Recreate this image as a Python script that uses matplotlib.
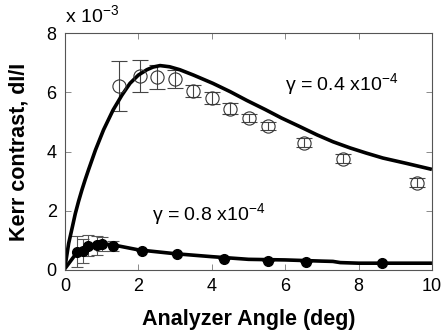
import numpy as np
import matplotlib
matplotlib.use('Agg')
import matplotlib.pyplot as plt

plt.rcParams['font.family'] = ['Liberation Sans', 'DejaVu Sans']

# measured points, y in units of 1e-3
open_x = [1.47, 2.04, 2.5, 3.0, 3.5, 4.0, 4.5, 5.0, 5.53, 6.5, 7.57, 9.58]
open_y = [6.22, 6.55, 6.52, 6.45, 6.05, 5.8, 5.45, 5.13, 4.86, 4.29, 3.75, 2.94]
open_err = [0.85, 0.55, 0.4, 0.3, 0.2, 0.2, 0.2, 0.15, 0.15, 0.15, 0.15, 0.15]

fill_x = [0.32, 0.5, 0.62, 0.88, 1.02, 1.32, 2.09, 3.04, 4.33, 5.54, 6.58, 8.63]
fill_y = [0.62, 0.64, 0.82, 0.84, 0.88, 0.81, 0.65, 0.54, 0.37, 0.31, 0.28, 0.22]
fill_err = [0.53, 0.42, 0.35, 0.32, 0.25, 0.16, 0, 0, 0, 0, 0, 0]

# fit curves
fit1_x = [0, 0.05, 0.1, 0.2, 0.28, 0.37, 0.46, 0.55, 0.64, 0.83, 1.05, 1.31,
          1.55, 1.77, 2.0, 2.23, 2.4, 2.59, 2.85, 3.13, 3.5, 4.03, 4.5, 4.96,
          5.45, 5.9, 6.4, 6.87, 7.3, 7.77, 8.2, 8.66, 9.3, 9.95]
fit1_y = [0.11, 0.5, 0.9, 1.45, 1.9, 2.32, 2.7, 3.05, 3.38, 4.05, 4.73, 5.4,
          5.9, 6.3, 6.58, 6.76, 6.85, 6.9, 6.86, 6.76, 6.58, 6.3, 6.02, 5.72,
          5.42, 5.13, 4.84, 4.56, 4.33, 4.12, 3.95, 3.78, 3.6, 3.41]

fit2_x = [0, 0.15, 0.3, 0.5, 0.7, 1.0, 1.3, 2.0, 3.0, 4.0, 5.0, 6.0, 7.0,
          7.3, 7.5, 8.0, 9.0, 9.95]
fit2_y = [0.05, 0.3, 0.55, 0.72, 0.82, 0.88, 0.85, 0.68, 0.55, 0.45, 0.36,
          0.34, 0.3, 0.29, 0.25, 0.23, 0.23, 0.23]

fig = plt.figure(figsize=(4.48, 3.36), dpi=100)
ax = fig.add_axes([65 / 448, 1 - 270 / 336, 367 / 448, 237 / 336])

ax.errorbar(open_x, open_y, yerr=open_err, fmt='o', mfc='none', mec='#333333',
            ms=9.5, mew=0.8, ecolor='#444444', elinewidth=0.8, capsize=6, capthick=0.8)
ax.errorbar(fill_x, fill_y, yerr=fill_err, fmt='o', color='black', ms=7,
            ecolor='#555555', elinewidth=0.8, capsize=4, capthick=0.8)
ax.plot(fit1_x, fit1_y, color='black', lw=2.6)
ax.plot(fit2_x, fit2_y, color='black', lw=2.6)

ax.text(6.0, 6.25, 'γ = 0.4 x10$^{\\mathregular{-4}}$', fontsize=14, va='center')
ax.text(2.37, 1.86, 'γ = 0.8 x10$^{\\mathregular{-4}}$', fontsize=14, va='center')

ax.set_xlim(0, 10)
ax.set_ylim(0, 8)
ax.set_xticks([0, 2, 4, 6, 8, 10])
ax.set_yticks([0, 2, 4, 6, 8])
ax.tick_params(direction='in', top=True, right=True, labelsize=13, length=4,
               width=0.6, color='#777777', pad=6)
for s in ax.spines.values():
    s.set_linewidth(0.8)
    s.set_color('#555555')

ax.set_xlabel('Analyzer Angle (deg)', fontsize=15.5, fontweight='bold', labelpad=10)
ax.set_ylabel('Kerr contrast, dI/I', fontsize=15.5, fontweight='bold', labelpad=12)
ax.text(0.0, 1.025, 'x 10$^{\\mathregular{-3}}$', transform=ax.transAxes,
        fontsize=14, ha='left', va='bottom')

fig.savefig('out.png', dpi=100)
